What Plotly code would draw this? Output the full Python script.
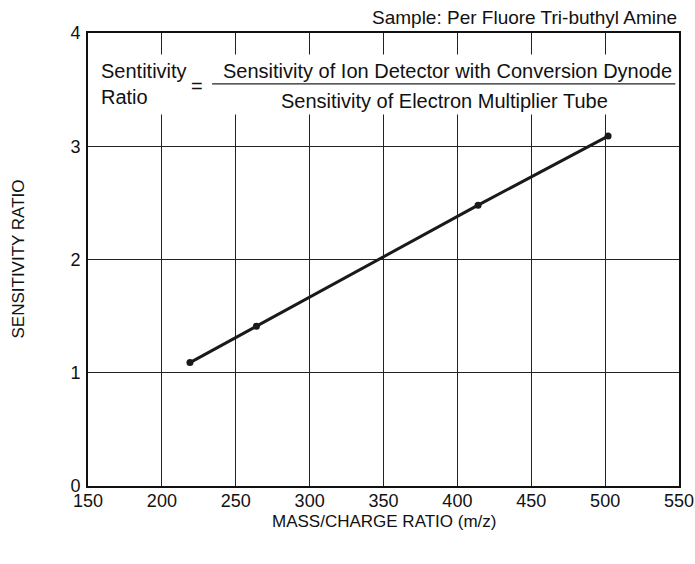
import plotly.graph_objects as go

# Data
mass_charge = [219, 264, 414, 502]
sensitivity_ratio = [1.09, 1.41, 2.48, 3.09]
x_ticks = [150, 200, 250, 300, 350, 400, 450, 500, 550]
y_ticks = [0, 1, 2, 3, 4]

sample_label = "Sample: Per Fluore Tri-buthyl Amine"
lhs_label = "Sentitivity<br>Ratio"
numerator = "Sensitivity of Ion Detector with Conversion Dynode"
denominator = "Sensitivity of Electron Multiplier Tube"
x_title = "MASS/CHARGE RATIO (m/z)"
y_title = "SENSITIVITY RATIO"

FONT = "Liberation Sans, Arial, Helvetica, sans-serif"
FS_TICK = 18
FS_EQ = 20
FS_TITLE = 17

fig = go.Figure()
fig.add_trace(go.Scatter(
    x=mass_charge, y=sensitivity_ratio, mode="lines+markers",
    line=dict(color="#1a1a1a", width=3),
    marker=dict(color="#1a1a1a", size=7),
    showlegend=False, hoverinfo="skip",
))

fig.update_layout(
    width=695, height=564,
    margin=dict(l=88, r=16, t=33, b=78, autoexpand=False),
    paper_bgcolor="white", plot_bgcolor="white",
    font=dict(family=FONT, size=FS_TICK, color="#111"),
    xaxis=dict(range=[150, 550], tickvals=x_ticks, ticktext=[str(v) for v in x_ticks],
               showgrid=True, gridcolor="#222", gridwidth=1,
               showline=True, linecolor="#111", linewidth=2, mirror=True,
               ticks="", zeroline=False, ticklabelstandoff=-3,
               tickfont=dict(size=FS_TICK)),
    yaxis=dict(range=[0, 4], tickvals=y_ticks, ticktext=[str(v) for v in y_ticks],
               showgrid=True, gridcolor="#222", gridwidth=1,
               showline=True, linecolor="#111", linewidth=2, mirror=True,
               ticks="", zeroline=False, ticklabelstandoff=2,
               tickfont=dict(size=FS_TICK)),
)

# white box behind the formula
fig.add_shape(type="rect", xref="x", yref="y", x0=150, x1=550, y0=3.28, y1=3.81,
              fillcolor="white", line=dict(width=0), layer="between")
# fraction line
fig.add_shape(type="line", xref="x", yref="y", x0=234, x1=547.5, y0=3.55, y1=3.55,
              line=dict(color="#222", width=1.2), layer="above")

ann = []
ann.append(dict(text=sample_label, xref="paper", yref="paper", x=1.0, y=1.0,
                xanchor="right", yanchor="bottom", yshift=3, showarrow=False,
                font=dict(size=19)))
ann.append(dict(text=lhs_label, xref="x", yref="y", x=157.5, y=3.55,
                xanchor="left", yanchor="middle", align="left", showarrow=False,
                font=dict(size=FS_EQ)))
ann.append(dict(text="=", xref="x", yref="y", x=223.8, y=3.55,
                xanchor="center", yanchor="middle", showarrow=False, yshift=-2,
                font=dict(size=FS_EQ)))
ann.append(dict(text=numerator, xref="x", yref="y", x=393, y=3.55,
                xanchor="center", yanchor="bottom", yshift=0, showarrow=False,
                font=dict(size=FS_EQ)))
ann.append(dict(text=denominator, xref="x", yref="y", x=391, y=3.55,
                xanchor="center", yanchor="top", yshift=-4, showarrow=False,
                font=dict(size=FS_EQ)))
ann.append(dict(text=x_title, xref="paper", yref="paper", x=0.5, y=0,
                xanchor="center", yanchor="middle", yshift=-35, showarrow=False,
                font=dict(size=FS_TITLE)))
ann.append(dict(text=y_title, xref="paper", yref="paper", x=0, y=0.5,
                xanchor="center", yanchor="middle", xshift=-70, textangle=-90,
                showarrow=False, font=dict(size=FS_TITLE)))
fig.update_layout(annotations=ann)

fig.write_html("out.html", config={"displayModeBar": False},
               post_script="document.body.style.margin='0';document.body.style.overflow='hidden';")
